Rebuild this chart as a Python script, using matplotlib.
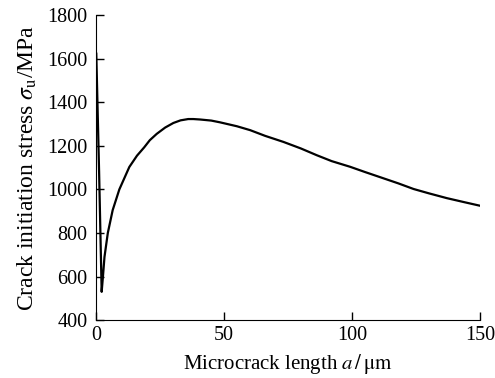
import numpy as np
import matplotlib.pyplot as plt

plt.rcParams['font.family'] = 'Liberation Serif'
plt.rcParams['mathtext.fontset'] = 'stix'

# microcrack length (um) and crack initiation stress (MPa)
length = [0.1, 1.2, 2.2, 2.7, 3.3, 4.6, 6.5, 9.1, 13.0, 16.0, 18.8, 21.0, 23.7, 27.0,
          30.2, 33.0, 36.0, 38.0, 40.6, 45.0, 48.4, 55.0, 60.2, 66.0, 73.2,
          80.0, 86.2, 92.0, 99.2, 105.0, 112.0, 118.0, 124.0, 130.0, 137.0,
          144.0, 150.0]
stress = [1623, 1080, 530, 600, 690, 800, 905, 1000, 1103, 1155, 1193, 1226, 1255, 1284,
          1305, 1317, 1323, 1323, 1321, 1316, 1308, 1290, 1272, 1246, 1218,
          1188, 1157, 1130, 1104, 1080, 1052, 1028, 1002, 982, 960,
          941, 925]

fig = plt.figure(figsize=(4.95, 3.78), dpi=100)
ax = fig.add_axes([0.194, 0.153, 0.776, 0.807])
ax.plot(length, stress, color='black', lw=1.6)

ax.set_xlim(0, 150)
ax.set_ylim(400, 1800)
ax.set_xticks([0, 50, 100, 150])
ax.set_yticks(np.arange(400, 1801, 200))
ax.spines['top'].set_visible(False)
ax.spines['right'].set_visible(False)
ax.tick_params(direction='in', length=6, labelsize=14.5, width=1)
ax.tick_params(axis='y', pad=6)
ax.tick_params(axis='x', pad=4)
ax.set_xlabel(r'Microcrack length $a\,/\,\mathrm{\mu m}$', fontsize=15, labelpad=5)
ax.set_ylabel(r'Crack initiation stress $\sigma_{\mathrm{u}}$/MPa', fontsize=17, labelpad=6)

fig.savefig('out.png', dpi=100)
